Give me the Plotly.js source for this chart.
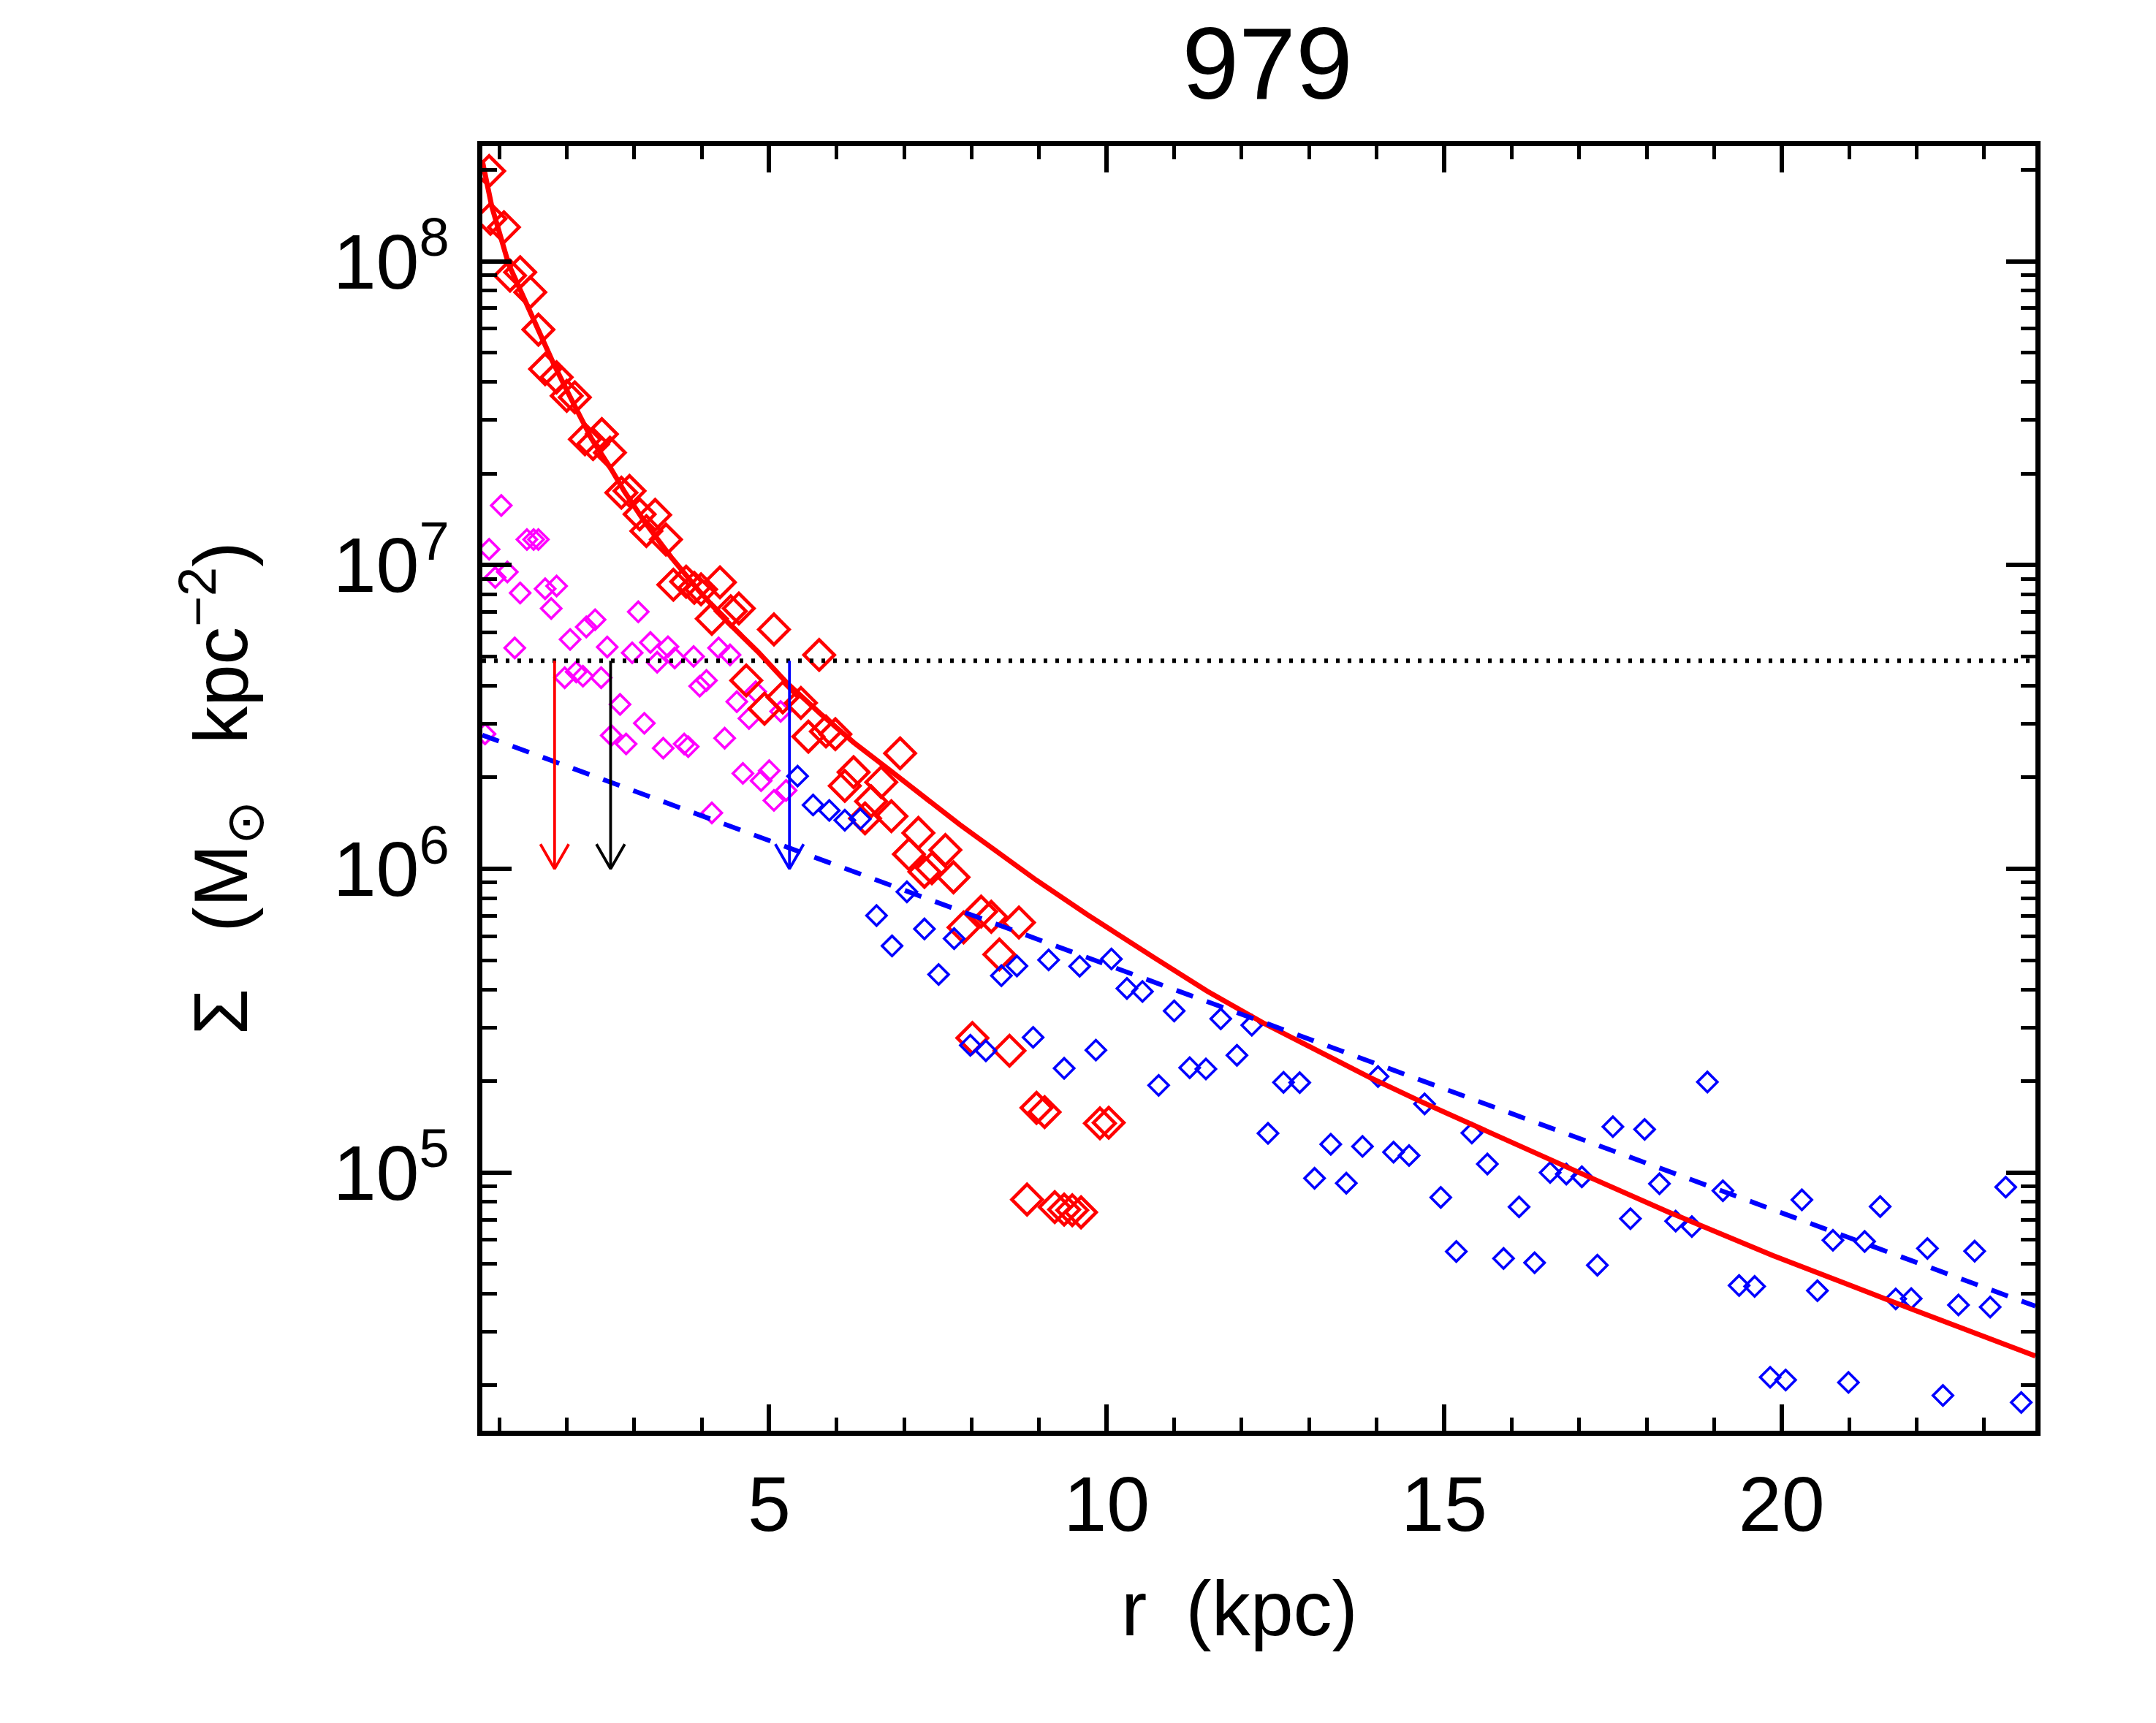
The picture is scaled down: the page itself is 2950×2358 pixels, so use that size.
<!DOCTYPE html>
<html>
<head>
<meta charset="utf-8">
<script src="https://cdn.plot.ly/plotly-3.0.1.min.js"></script>
<style>html,body{margin:0;padding:0;background:#ffffff;}</style>
</head>
<body>
<div id="chart" style="width:2950px;height:2358px;"></div>
<script>
// ---------------- data ----------------
const chartTitle = '979';
const xTitle = 'r\u2002(kpc)\u2002\u200B';
const yTitle = '\u03A3\u2002\u2005(M<sub>\u2299</sub>\u2002\u2005kpc<sup>\u22122</sup>)';

const xTickVals = [5, 10, 15, 20];
const xTickText = ['5', '10', '15', '20'];
const yTickVals = [1e5, 1e6, 1e7, 1e8];
const yTickText = ['10<sup>5</sup>', '10<sup>6</sup>', '10<sup>7</sup>', '10<sup>8</sup>'];

// red (large diamonds): radius in kpc, log10 of Sigma
const redR = [0.85, 0.87, 1.07, 1.16, 1.31, 1.46, 1.58, 1.68, 1.85, 2.00, 2.12, 2.27, 2.39, 2.52, 2.64,
  2.81, 2.93, 3.08, 3.31, 3.18, 3.47, 3.58, 3.77, 3.89, 3.99, 4.27, 4.15, 4.43, 4.55, 5.07,
  5.74, 4.66, 4.93, 5.20, 5.47, 5.58, 5.84, 5.98, 6.94, 6.25, 6.12, 6.66, 6.51, 6.81, 6.42,
  7.21, 7.07, 7.61, 7.41, 7.30, 7.73, 8.14, 8.29, 7.88, 8.70, 8.41,
  8.01, 8.56, 8.96, 9.08, 9.90, 10.03, 8.82, 9.23, 9.37, 9.49, 9.62];
const redLogSigma = [8.297, 8.140, 8.112, 7.953, 7.964, 7.898, 7.775, 7.645, 7.618, 7.557, 7.552, 7.414, 7.398, 7.431, 7.370,
  7.238, 7.244, 7.167, 7.165, 7.112, 7.084, 6.935, 6.945, 6.925, 6.920, 6.943, 6.823, 6.848, 6.857, 6.788,
  6.704, 6.620, 6.527, 6.564, 6.546, 6.435, 6.452, 6.443, 6.380, 6.318, 6.273, 6.285, 6.222, 6.173, 6.166,
  6.118, 6.048, 6.062, 6.002, 5.990, 5.972, 5.859, 5.842, 5.807, 5.823, 5.718,
  5.443, 5.401, 5.213, 5.199, 5.162, 5.164, 4.911, 4.886, 4.878, 4.876, 4.869];

// magenta (small diamonds)
const magR = [0.85, 1.03, 1.41, 1.51, 1.58, 0.94, 1.12, 1.31, 1.68, 1.85, 1.77, 3.06, 2.29, 2.42, 1.23,
  2.05, 2.60, 2.97, 3.24, 3.50, 3.60, 3.34, 3.88, 4.25, 4.42, 1.97, 2.14, 2.24, 2.51, 3.97,
  4.07, 2.79, 3.15, 4.52, 4.70, 4.80, 5.17, 2.66, 2.88, 3.43, 3.74, 3.80, 4.34, 0.79, 4.61,
  4.88, 5.00, 5.07, 5.25, 4.15];
const magLogSigma = [7.052, 7.196, 7.084, 7.084, 7.084, 6.959, 6.977, 6.908, 6.922, 6.931, 6.857, 6.846, 6.796, 6.820, 6.727,
  6.755, 6.730, 6.711, 6.745, 6.731, 6.694, 6.680, 6.699, 6.727, 6.704, 6.629, 6.648, 6.634, 6.629, 6.601,
  6.620, 6.541, 6.479, 6.550, 6.495, 6.583, 6.518, 6.439, 6.411, 6.397, 6.411, 6.402, 6.430, 6.444, 6.314,
  6.290, 6.323, 6.225, 6.258, 6.184];

// blue (small diamonds)
const blueR = [5.42, 5.65, 5.89, 6.12, 6.35, 7.04, 6.59, 6.82,
  7.30, 7.74, 7.51, 8.44, 8.67, 9.14, 9.60, 10.07, 10.30, 10.53, 11.00, 11.69, 12.15, 7.98, 8.21,
  8.91, 9.84, 9.37, 10.77, 11.23, 11.47, 11.93,
  12.62, 12.86, 12.39, 13.32, 13.79, 14.25, 14.48, 13.08, 13.55, 14.02, 14.71, 15.41, 15.64, 14.95,
  16.11, 15.18, 15.88, 16.34, 17.27, 16.57, 16.81, 17.04, 17.50, 17.97, 18.19, 17.76,
  18.90, 18.43, 18.67, 19.13, 20.30, 21.46, 20.76, 21.23, 22.16, 22.86, 23.32, 19.37, 19.60, 20.53,
  21.69, 21.92, 22.62, 23.09, 19.83, 20.06, 20.99, 22.39, 23.55];
const blueLogSigma = [6.305, 6.210, 6.192, 6.160, 6.164, 5.924, 5.846, 5.746,
  5.802, 5.770, 5.652, 5.648, 5.680, 5.700, 5.679, 5.703, 5.606, 5.596, 5.532, 5.506, 5.485, 5.419, 5.401,
  5.445, 5.403, 5.343, 5.287, 5.345, 5.341, 5.386,
  5.297, 5.296, 5.129, 5.093, 5.086, 5.067, 5.056, 4.981, 4.965, 5.316, 5.226, 5.130, 5.028, 4.918,
  4.887, 4.740, 4.717, 4.703, 4.695, 5.000, 4.995, 4.986, 5.151, 5.142, 4.963, 4.848,
  5.298, 4.840, 4.822, 4.940, 4.910, 4.888, 4.777, 4.773, 4.750, 4.741, 4.952, 4.628, 4.625, 4.611,
  4.584, 4.585, 4.564, 4.557, 4.326, 4.317, 4.309, 4.266, 4.243];

// red solid model curve
const curveR = [0.75, 0.89, 1.14, 1.38, 1.58, 1.80, 2.07, 2.37, 2.66, 2.86, 3.16, 3.55, 3.94, 4.34, 4.83,
  5.27, 5.76, 6.25, 6.80, 7.29, 7.82, 8.96, 9.72, 10.70, 11.49, 12.34, 13.19, 13.90, 14.64, 15.91,
  17.18, 18.31, 19.87, 21.99, 23.76];
const curveLogSigma = [8.33, 8.18, 7.99, 7.87, 7.765, 7.665, 7.545, 7.415, 7.315, 7.24, 7.14, 7.025, 6.92, 6.822, 6.715,
  6.61, 6.51, 6.416, 6.322, 6.239, 6.146, 5.962, 5.848, 5.708, 5.597, 5.490, 5.392, 5.313, 5.235, 5.107,
  4.982, 4.871, 4.727, 4.545, 4.396];

// blue dashed exponential (straight in log-linear space): end points
const diskR = [0.75, 23.76];
const diskLogSigma = [6.44, 4.56];

// black dotted threshold
const thresholdLogSigma = 6.685;

// arrows: radius and colour, from threshold down to 10^6
const arrowR = [1.82, 2.65, 5.30];
const arrowColors = ['#ff0000', '#000000', '#0000ff'];
const arrowTipLogSigma = 6.0;

// ---------------- build the figure ----------------
const xRange = [0.75, 23.76];
const yRangeLog = [4.15, 8.379];
const pow10 = a => a.map(v => Math.pow(10, v));

const FONT = 'Liberation Sans, Arial, Helvetica, sans-serif';
const traces = [];

traces.push({
  x: magR, y: pow10(magLogSigma), mode: 'markers', type: 'scatter',
  marker: {symbol: 'diamond-open', size: 21, color: '#ff00ff', line: {width: 3.6, color: '#ff00ff'}},
  hoverinfo: 'skip'
});
traces.push({
  x: redR, y: pow10(redLogSigma), mode: 'markers', type: 'scatter',
  marker: {symbol: 'diamond-open', size: 32, color: '#ff0000', line: {width: 4.6, color: '#ff0000'}},
  hoverinfo: 'skip'
});
traces.push({
  x: blueR, y: pow10(blueLogSigma), mode: 'markers', type: 'scatter',
  marker: {symbol: 'diamond-open', size: 21, color: '#0000ff', line: {width: 3.6, color: '#0000ff'}},
  hoverinfo: 'skip'
});
// dotted threshold
traces.push({
  x: xRange, y: [Math.pow(10, thresholdLogSigma), Math.pow(10, thresholdLogSigma)],
  mode: 'lines', type: 'scatter',
  line: {color: '#000000', width: 6, dash: '5px,11px'}, hoverinfo: 'skip'
});
// red model curve
traces.push({
  x: curveR, y: pow10(curveLogSigma), mode: 'lines', type: 'scatter',
  line: {color: '#ff0000', width: 7}, hoverinfo: 'skip'
});
// blue dashed disk
traces.push({
  x: diskR, y: pow10(diskLogSigma), mode: 'lines', type: 'scatter',
  line: {color: '#0000ff', width: 6.5, dash: '24px,20px'}, hoverinfo: 'skip'
});
// arrows (shaft + open V head)
const headHalfWidth = 0.21;   // kpc
const headHeight = 0.081;     // dex
arrowR.forEach((r, i) => {
  const top = Math.pow(10, thresholdLogSigma);
  const tip = Math.pow(10, arrowTipLogSigma);
  const headY = Math.pow(10, arrowTipLogSigma + headHeight);
  traces.push({
    x: [r, r, null, r - headHalfWidth, r, r + headHalfWidth],
    y: [top, tip, null, headY, tip, headY],
    mode: 'lines', type: 'scatter',
    line: {color: arrowColors[i], width: 3.8}, hoverinfo: 'skip'
  });
});

// minor log ticks (2..9 per decade)
const yMinor = [];
for (let p = Math.floor(yRangeLog[0]); p <= Math.ceil(yRangeLog[1]); p++) {
  for (let d = 2; d <= 9; d++) yMinor.push(d * Math.pow(10, p));
}

const layout = {
  width: 2950, height: 2358,
  paper_bgcolor: '#ffffff', plot_bgcolor: '#ffffff',
  showlegend: false,
  margin: {l: 660, r: 165, t: 200, b: 400, pad: 0},
  font: {family: FONT, color: '#000000'},
  title: {
    text: chartTitle, font: {family: FONT, size: 140, color: '#000000'},
    xref: 'container', yref: 'container', x: 0.5878, y: 0.9635, xanchor: 'center', yanchor: 'middle'
  },
  xaxis: {
    type: 'linear', range: xRange, autorange: false,
    showgrid: false, zeroline: false,
    showline: true, linewidth: 7, linecolor: '#000000', mirror: 'ticks',
    ticks: 'inside', ticklen: 36, tickwidth: 6, tickcolor: '#000000',
    tickmode: 'array', tickvals: xTickVals, ticktext: xTickText,
    tickfont: {family: FONT, size: 106, color: '#000000'},
    ticklabelstandoff: 3,
    minor: {ticks: 'inside', ticklen: 18, tickwidth: 5, tickcolor: '#000000', dtick: 1, tick0: 0, showgrid: false},
    title: {text: xTitle, font: {family: FONT, size: 106, color: '#000000'}, standoff: 50},
    automargin: false
  },
  yaxis: {
    type: 'log', range: yRangeLog, autorange: false,
    showgrid: false, zeroline: false,
    showline: true, linewidth: 7, linecolor: '#000000', mirror: 'ticks',
    ticks: 'inside', ticklen: 40, tickwidth: 6, tickcolor: '#000000',
    tickmode: 'array', tickvals: yTickVals, ticktext: yTickText,
    tickfont: {family: FONT, size: 106, color: '#000000'},
    ticklabelstandoff: 17,
    minor: {ticks: 'inside', ticklen: 20, tickwidth: 5, tickcolor: '#000000', tickmode: 'array', tickvals: yMinor, showgrid: false},
    title: {text: yTitle, font: {family: FONT, size: 103, color: '#000000'}, standoff: 85},
    automargin: false
  }
};

Plotly.newPlot('chart', traces, layout, {staticPlot: true, displayModeBar: false});
</script>
</body>
</html>
